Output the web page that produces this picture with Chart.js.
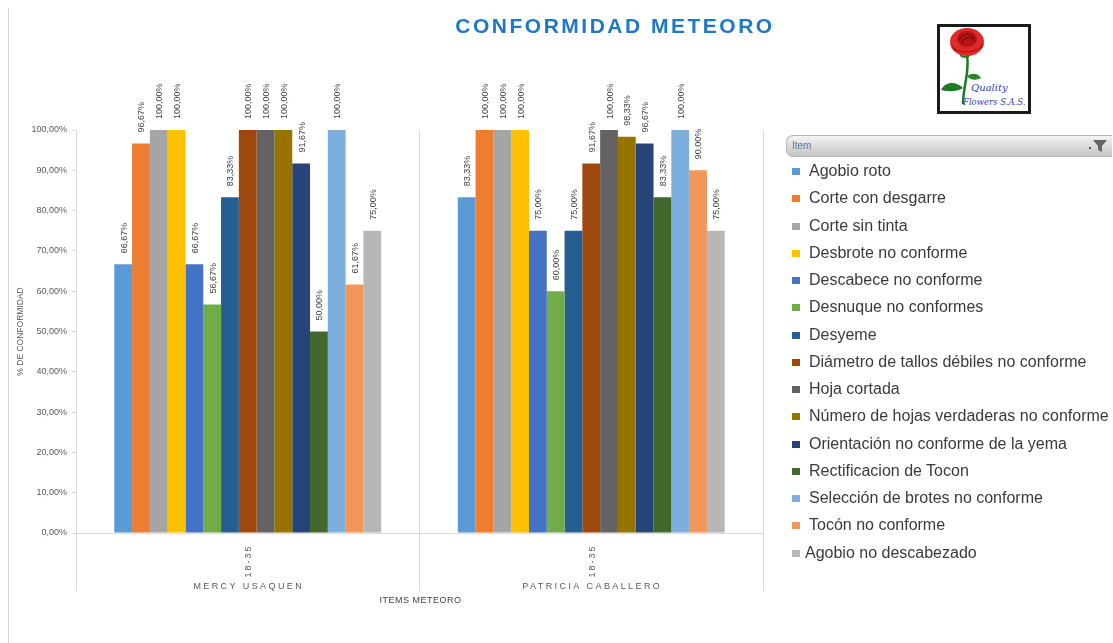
<!DOCTYPE html>
<html lang="es">
<head>
<meta charset="utf-8">
<title>Conformidad Meteoro</title>
<script src="https://cdn.jsdelivr.net/npm/chart.js@4.4.1/dist/chart.umd.min.js"></script>
<style>
  html, body { margin: 0; padding: 0; background: #fff; }
  #wrap { position: relative; width: 1113px; height: 643px; overflow: hidden;
          font-family: 'Liberation Sans', Arial, sans-serif; }
  #chart { position: absolute; left: 0; top: 0; }
  #frame { position: absolute; left: 8px; top: 8px; width: 1px; height: 640px; background: #d9d9d9; }
  #title { position: absolute; left: 415px; top: 14px; width: 400px; text-align: center;
           font: bold 21px/24px 'Liberation Sans', Arial, sans-serif; letter-spacing: 2.5px; color: #1f78c6; }
  #logo { position: absolute; left: 937px; top: 24px; }
  #legend { position: absolute; left: 786px; top: 135px; width: 326px; }
  #legend .filter { height: 20px; border: 1px solid #b9b9b9; border-right: none;
                    border-radius: 7px 0 0 7px; position: relative;
                    background: linear-gradient(#f4f4f4, #d6d6d6 60%, #c6c6c6); }
  #legend .filter span { position: absolute; left: 5px; top: 4px; font-size: 10px; color: #5a76a8; }
  #legend .filter svg { position: absolute; right: 4px; top: 2px; }
  #legend .row { height: 27.25px; line-height: 27.25px; font-size: 16px; color: #3a3a3a; white-space: nowrap; }
  #legend .sw { display: inline-block; width: 8px; height: 7px; margin: 0 9px 0 6px; vertical-align: 1px; }
</style>
</head>
<body>
<div id="wrap">
  <div id="frame"></div>
  <canvas id="chart" width="1113" height="643"></canvas>
  <div id="title">CONFORMIDAD METEORO</div>
  <svg id="logo" width="95" height="90" viewBox="0 0 95 90">
    <rect x="1.5" y="1.5" width="91" height="87" fill="#fff" stroke="#1a1a1a" stroke-width="3"/>
    <path d="M30 31 C 33 48, 26 62, 26 80" stroke="#1f7a22" stroke-width="2.5" fill="none"/>
    <path d="M26 64 C 18 56, 8 58, 4 66 C 12 68, 20 68, 26 64 Z" fill="#1f7a22"/>
    <path d="M30 52 C 36 48, 42 50, 44 54 C 38 57, 33 56, 30 52 Z" fill="#2b8a2b"/>
    <path d="M24 30 C 22 34, 34 34, 33 29" stroke="#1f7a22" stroke-width="2" fill="none"/>
    <ellipse cx="30" cy="18" rx="17" ry="14" fill="#e02a2a"/>
    <ellipse cx="30" cy="15" rx="10" ry="8" fill="#b81414"/>
    <path d="M22 16 C 26 8, 36 9, 37 16 C 33 12, 27 13, 25 19" stroke="#7d0c0c" stroke-width="1.4" fill="none"/>
    <path d="M15 22 C 18 30, 42 30, 46 20" stroke="#a81010" stroke-width="1.2" fill="none"/>
    <text x="34" y="67" font-family="'DejaVu Serif', serif" font-style="italic" font-size="10" fill="#2f3fc0">Quality</text>
    <text x="26" y="81" font-family="'DejaVu Serif', serif" font-style="italic" font-size="8.5" fill="#2f3fc0">Flowers S.A.S.</text>
  </svg>
  <div id="legend">
    <div class="filter"><span>Item</span>
      <svg width="20" height="16" viewBox="0 0 20 16">
        <rect x="1" y="9" width="2" height="2" fill="#555"/>
        <path d="M5 2 H19 L14 8 V14 L10 12 V8 Z" fill="#666"/>
      </svg>
    </div>
    <div id="legendRows"></div>
  </div>
</div>
<script>
// categories (outer) and the single inner age bracket
const groups = ['MERCY USAQUEN', 'PATRICIA CABALLERO'];
const ageRange = '18-35';

// series names (legend order)
const items = [
    'Agobio roto',
    'Corte con desgarre',
    'Corte sin tinta',
    'Desbrote no conforme',
    'Descabece no conforme',
    'Desnuque no conformes',
    'Desyeme',
    'Diámetro de tallos débiles no conforme',
    'Hoja cortada',
    'Número de hojas verdaderas no conforme',
    'Orientación no conforme de la yema',
    'Rectificacion de Tocon',
    'Selección de brotes no conforme',
    'Tocón no conforme',
    'Agobio no descabezado'
];

// % conformidad per item, one array per person
const mercyValues = [66.67, 96.67, 100, 100, 66.67, 56.67, 83.33, 100, 100, 100, 91.67, 50, 100, 61.67, 75];
const patriciaValues = [83.33, 100, 100, 100, 75, 60, 75, 91.67, 100, 98.33, 96.67, 83.33, 100, 90, 75];

// y axis: 0 .. 100 in steps of 10
const yMin = 0;
const yMax = 100;
const yStep = 10;

const itemColors = [
    '#5b9bd5', '#ed7d31', '#a5a5a5', '#ffc000', '#4472c4',
    '#70ad47', '#255e91', '#9e480e', '#636363', '#997300',
    '#264478', '#43682b', '#7cafdd', '#f1975a', '#b7b7b7'
];

const FONT = "'Liberation Sans', Arial, sans-serif";
const pct = (v) => v.toFixed(2).replace('.', ',') + '%';

// Legend (HTML, like the pivot-chart field list)
const legendRows = document.getElementById('legendRows');
items.forEach((name, i) => {
    const row = document.createElement('div');
    row.className = 'row';
    const last = i === items.length - 1;
    row.innerHTML = `<span class="sw" style="background:${itemColors[i]};${last ? 'margin-right:5px' : ''}"></span>${name}`;
    legendRows.appendChild(row);
});

// value labels, rotated, above each bar
const valueLabels = {
    id: 'valueLabels',
    afterDatasetsDraw(chart) {
        const ctx = chart.ctx;
        ctx.save();
        ctx.font = '9px ' + FONT;
        ctx.fillStyle = '#404040';
        ctx.textAlign = 'left';
        ctx.textBaseline = 'middle';
        chart.data.datasets.forEach((ds, di) => {
            chart.getDatasetMeta(di).data.forEach((bar, i) => {
                ctx.save();
                ctx.translate(bar.x + 1, bar.y - 11);
                ctx.rotate(-Math.PI / 2);
                ctx.fillText(pct(ds.data[i]), 0, 0);
                ctx.restore();
            });
        });
        ctx.restore();
    }
};

// two-level category labels + axis title under the x axis
const categoryText = {
    id: 'categoryText',
    afterDraw(chart) {
        const ctx = chart.ctx;
        const x = chart.scales.x;
        ctx.save();
        ctx.fillStyle = '#595959';
        ctx.textBaseline = 'middle';
        groups.forEach((name, i) => {
            const px = x.getPixelForValue(i);
            ctx.save();
            ctx.font = '9px ' + FONT;
            ctx.letterSpacing = '2px';
            ctx.translate(px + 1, 561);
            ctx.rotate(-Math.PI / 2);
            ctx.textAlign = 'center';
            ctx.fillText(ageRange, 0, 0);
            ctx.restore();

            ctx.font = '9px ' + FONT;
            ctx.letterSpacing = '2.4px';
            ctx.textAlign = 'center';
            ctx.fillText(name, px + 1, 587);
        });
        ctx.letterSpacing = '0.5px';
        ctx.font = '9px ' + FONT;
        ctx.textAlign = 'center';
        ctx.fillStyle = '#404040';
        ctx.fillText('ITEMS METEORO', (x.left + x.right) / 2 + 1, 601);
        ctx.restore();
    }
};

const ctxBars = document.getElementById('chart').getContext('2d');
new Chart(ctxBars, {
    type: 'bar',
    data: {
        labels: groups,
        datasets: items.map((name, k) => ({
            label: name,
            data: [mercyValues[k], patriciaValues[k]],
            backgroundColor: itemColors[k],
            borderWidth: 0,
            barPercentage: 1,
            categoryPercentage: 0.777
        }))
    },
    options: {
        responsive: false,
        animation: false,
        devicePixelRatio: 1,
        layout: { padding: { top: 130, right: 350, left: 0, bottom: 0 } },
        plugins: {
            legend: { display: false },
            title: { display: false },
            tooltip: { enabled: false }
        },
        scales: {
            x: {
                offset: true,
                grid: { offset: true, color: '#d9d9d9', tickLength: 58, drawOnChartArea: true },
                border: { color: '#d9d9d9' },
                ticks: { display: false },
                afterFit: (scale) => { scale.height = 110; }
            },
            y: {
                min: yMin,
                max: yMax,
                ticks: {
                    stepSize: yStep,
                    color: '#595959',
                    font: { family: FONT, size: 9 },
                    padding: 5,
                    callback: (v) => pct(v)
                },
                grid: { drawOnChartArea: false, color: '#d9d9d9', tickLength: 4 },
                border: { color: '#d9d9d9' },
                title: {
                    display: true,
                    text: '% DE CONFORMIDAD',
                    color: '#595959',
                    font: { family: FONT, size: 8.5 },
                    padding: { top: 16 }
                },
                afterFit: (scale) => { scale.width = 76; }
            }
        }
    },
    plugins: [valueLabels, categoryText]
});
</script>
</body>
</html>
